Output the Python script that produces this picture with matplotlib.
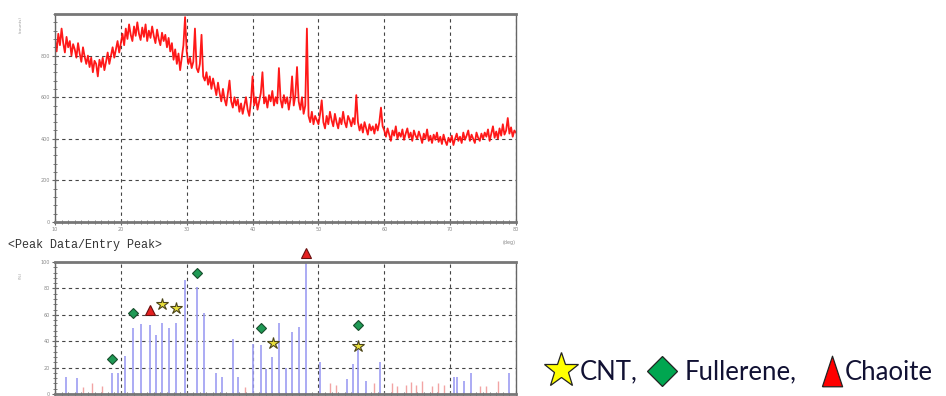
import numpy as np
import matplotlib
matplotlib.use("Agg")
import matplotlib.pyplot as plt
from matplotlib.ticker import MultipleLocator

# XRD scan (counts), sampled every 0.25 deg from 10 to 80 deg 2-theta
scan_start = 10.0
scan_step = 0.25
counts = [
    880, 820, 905, 850, 930, 860, 815, 890, 840, 870, 800, 855, 830, 790, 860, 810, 770, 840, 795, 760,
    800, 745, 790, 720, 775, 760, 700, 780, 745, 790, 730, 770, 815, 760, 800, 840, 790, 830, 870, 815,
    860, 905, 850, 930, 880, 950, 900, 870, 940, 895, 960, 905, 875, 935, 890, 950, 870, 920, 885, 940,
    895, 860, 925, 880, 850, 910, 870, 900, 840, 885, 820, 860, 780, 830, 760, 810, 730, 790, 850, 985,
    820, 760, 790, 740, 770, 930, 740, 720, 760, 900, 700, 680, 720, 660, 700, 640, 690, 650, 610, 670,
    620, 580, 640, 590, 560, 620, 680, 580, 550, 600, 560, 590, 530, 570, 520, 560, 600, 540, 510, 580,
    700, 560, 600, 540, 580, 620, 720, 570, 600, 550, 610, 580, 630, 560, 600, 570, 740, 590, 550, 610,
    570, 600, 540, 590, 700, 560, 610, 745, 580, 540, 600, 520, 560, 930, 510, 480, 530, 470, 510, 490,
    470, 520, 585, 480, 450, 510, 470, 530, 490, 460, 520, 480, 450, 500, 470, 530, 480, 455, 510, 490,
    460, 500, 470, 610, 480, 440, 470, 430, 480, 450, 420, 470, 440, 460, 425, 470, 440, 480, 550, 460,
    440, 410, 450, 420, 390, 440, 415, 460, 400, 430, 410, 445, 395, 425, 450, 405, 430, 390, 440, 415,
    400, 435, 410, 380, 425, 400, 445, 390, 415, 380, 420, 395, 430, 385, 410, 375, 420, 390, 370, 405,
    385, 415, 370, 400, 425, 390, 410, 380, 430, 395, 415, 440, 390, 420, 400, 380, 430, 405, 390, 425,
    400, 430, 410, 445, 390, 425, 460, 405, 435, 400, 450, 415, 470, 420, 440, 500, 425, 455, 410, 440,
    430,
]
two_theta = scan_start + scan_step * np.arange(len(counts))

# entry peaks (relative intensity %)
blue_pos = [11.6, 13.3, 18.6, 19.6, 20.6, 21.9, 23.1, 24.4, 25.4, 26.3, 27.3, 28.3, 29.8, 31.5,
            32.6, 34.4, 35.4, 37.0, 37.8, 40.1, 41.3, 42.1, 43.0, 44.0, 45.1, 46.0, 47.0, 48.1,
            50.3, 54.3, 55.2, 56.0, 57.2, 59.3, 70.6, 71.1, 72.1, 73.1, 78.9]
blue_int = [13, 12, 16, 16, 29, 50, 53, 52, 45, 54, 50, 54, 86, 81,
            61, 16, 13, 42, 13, 38, 37, 19, 28, 54, 20, 47, 51, 100,
            24, 11, 23, 40, 10, 24, 13, 13, 10, 16, 16]
red_pos = [14.2, 15.6, 17.1, 38.8, 51.7, 52.6, 58.5, 61.2, 62.0, 63.3, 64.0, 64.8, 65.8, 67.3,
           68.2, 69.1, 74.6, 75.4, 77.2]
red_int = [5, 8, 6, 5, 8, 7, 8, 8, 6, 7, 9, 7, 10, 6, 8, 7, 6, 6, 10]

# phase markers
cnt_x = [26.3, 28.3, 43.1, 56.0]
cnt_y = [68, 65, 39, 36]
fullerene_x = [18.6, 21.9, 31.5, 41.3, 56.0]
fullerene_y = [26.5, 61, 92, 50, 52]
chaoite_x = [24.4, 48.1]
chaoite_y = [64, 107]

W, H = 946, 396
fig = plt.figure(figsize=(W / 100, H / 100), dpi=100)
fig.patch.set_facecolor("white")

tri_tall = [(-0.33, -0.5), (0.33, -0.5), (0.0, 0.5), (-0.33, -0.5)]


def style_axes(ax, ymax, ymaj, ymin):
    ax.set_xlim(10, 80)
    ax.set_ylim(0, ymax)
    ax.xaxis.set_major_locator(MultipleLocator(10))
    ax.xaxis.set_minor_locator(MultipleLocator(1))
    ax.yaxis.set_major_locator(MultipleLocator(ymaj))
    ax.yaxis.set_minor_locator(MultipleLocator(ymin))
    ax.grid(True, which="major", color="#444444", linestyle=(0, (3, 3)), linewidth=0.8)
    ax.tick_params(which="both", direction="inout", colors="#666666", labelsize=3.5,
                   labelcolor="#888888", pad=1)
    ax.tick_params(which="major", length=5, width=0.8)
    ax.tick_params(which="minor", length=3, width=0.6)
    for s in ["left", "right"]:
        ax.spines[s].set_color("#666666")
        ax.spines[s].set_linewidth(1.0)
    for s in ["top", "bottom"]:
        ax.spines[s].set_color("#777777")
        ax.spines[s].set_linewidth(2.0)


# top: measured pattern
ax1 = fig.add_axes([55 / W, 1 - 222 / H, 461 / W, 208 / H])
ax1.plot(two_theta, counts, color="#ff0000", linewidth=1.3, alpha=0.9)
style_axes(ax1, 1000, 200, 40)
ax1.set_yticks([0, 200, 400, 600, 800])
ax1.set_yticks(np.arange(0, 1001, 40), minor=True)
ax1.text(-0.075, 0.95, "(counts)", transform=ax1.transAxes, rotation=90,
         fontsize=3, color="#999999", ha="center", va="center")
ax1.text(0.985, -0.1, "(deg)", transform=ax1.transAxes, fontsize=3.5,
         color="#888888", ha="center", va="center")

# bottom: entry peaks
ax2 = fig.add_axes([55 / W, 1 - 394 / H, 461 / W, 132 / H])
ax2.vlines(blue_pos, 0, blue_int, color="#9d9df2", linewidth=1.2)
ax2.vlines(red_pos, 0, red_int, color="#f2a4a4", linewidth=1.0)
style_axes(ax2, 100, 20, 4)
ax2.tick_params(axis="x", labelbottom=False)
ax2.text(-0.075, 0.9, "(%)", transform=ax2.transAxes, rotation=90,
         fontsize=3, color="#999999", ha="center", va="center")
ax2.plot(fullerene_x, fullerene_y, linestyle="none", marker="D", markersize=5.5,
         markerfacecolor="#1f9a55", markeredgecolor="#174d2c", markeredgewidth=0.8, zorder=5)
ax2.plot(cnt_x, cnt_y, linestyle="none", marker="*", markersize=9,
         markerfacecolor="#e8df3c", markeredgecolor="#4a4418", markeredgewidth=0.8, zorder=5)
ax2.plot(chaoite_x, chaoite_y, linestyle="none", marker="^", markersize=7,
         markerfacecolor="#e52020", markeredgecolor="#6a1010", markeredgewidth=0.8,
         zorder=6, clip_on=False)

fig.text(8 / W, 1 - 245 / H, "<Peak Data/Entry Peak>", family="Liberation Mono",
         fontsize=8.5, color="#333333", ha="left", va="center")

# legend drawn in pixel space
leg = fig.add_axes([0, 0, 1, 1], zorder=10)
leg.set_xlim(0, W)
leg.set_ylim(H, 0)
leg.axis("off")
leg.plot([561], [370], marker="*", markersize=26, markerfacecolor="#ffff00",
         markeredgecolor="#222222", markeredgewidth=0.9, linestyle="none")
leg.plot([662], [371], marker="D", markersize=15, markerfacecolor="#00a650",
         markeredgecolor="#222222", markeredgewidth=0.9, linestyle="none")
leg.plot([832], [371], marker=tri_tall, markersize=22, markerfacecolor="#ff0000",
         markeredgecolor="#222222", markeredgewidth=0.9, linestyle="none")
txt = dict(family="Lato", fontsize=18.5, color="#111133", va="center", ha="left")
leg.text(580, 372, "CNT,", **txt)
leg.text(685, 372, "Fullerene,", **txt)
leg.text(845, 372, "Chaoite", **txt)

fig.savefig("out.png", dpi=100, facecolor="white")
